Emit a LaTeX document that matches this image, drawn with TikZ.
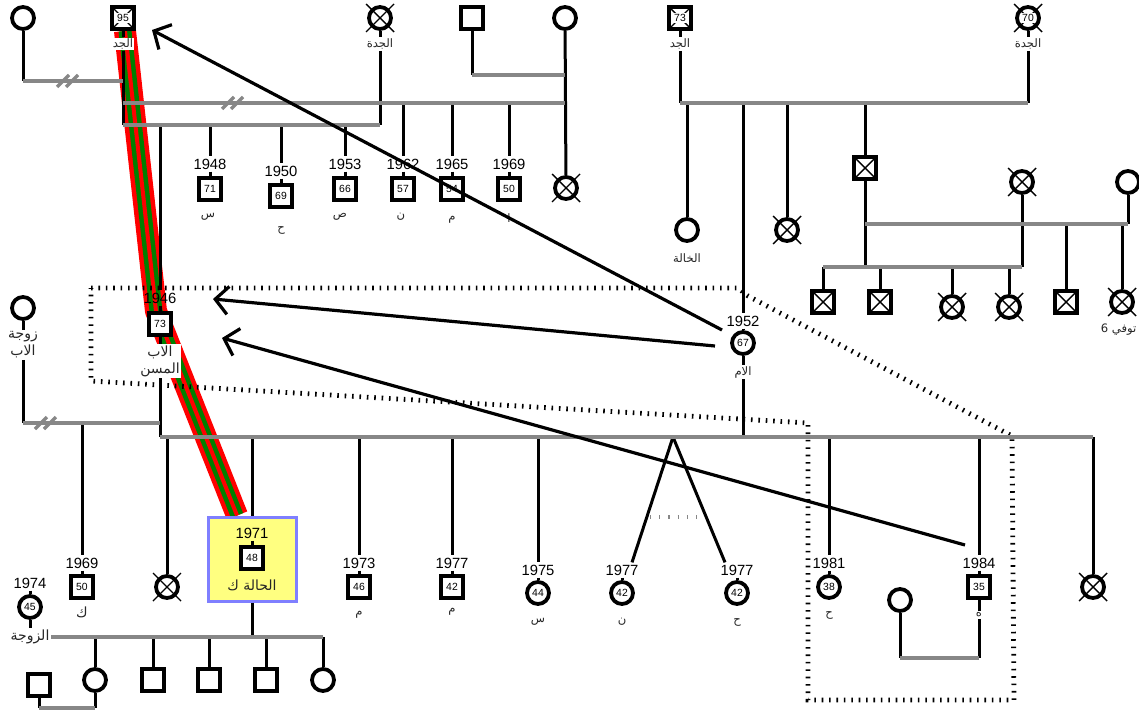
\documentclass[tikz,border=0pt]{standalone}
\usepackage{fontspec}
\setmainfont{Liberation Sans}
\newfontfamily\arabicfont[Script=Arabic]{DejaVu Sans}
\TeXXeTstate=1
\usetikzlibrary{arrows.meta,backgrounds}
\definecolor{linegray}{HTML}{878787}
\definecolor{caseyellow}{HTML}{FFFF80}
\definecolor{caseblue}{HTML}{7F7FFF}
\definecolor{bandgreen}{HTML}{007F00}
\newcommand{\artxt}[1]{{\arabicfont\beginR #1\endR}}
\newcommand{\agefont}{\fontsize{5.2}{6}\selectfont}
\newcommand{\yrfont}{\fontsize{7.4}{8}\selectfont}
\tikzset{
  kin/.style={line width=1.5pt},
  marr/.style={line width=2pt, draw=linegray},
  msym/.style={draw, fill=white, line width=1.9pt, minimum size=11pt, inner sep=0pt, font=\agefont},
  fsym/.style={msym, circle},
  dsq/.style={msym, path picture={\draw[line width=0.7pt] (path picture bounding box.north west) -- (path picture bounding box.south east) (path picture bounding box.north east) -- (path picture bounding box.south west);}},
  agelab/.style={fill=white, inner sep=0.6pt, font=\agefont},
  yr/.style={font=\yrfont, inner sep=1pt},
  arlab/.style={font=\fontsize{5.8}{6.8}\selectfont, fill=white, inner sep=0.6pt, text=black!85},
  arbig/.style={arlab, font=\fontsize{7}{8.5}\selectfont},
  xmark/.style={line width=0.7pt},
  divorce/.style={line width=1.6pt, draw=linegray},
  hhold/.style={line width=2.4pt, dash pattern=on 0.8pt off 2.9pt},
  twinmark/.style={line width=1.6pt, draw=linegray, dash pattern=on 0.6pt off 4pt},
  casebox/.style={draw=caseblue, fill=caseyellow, line width=1.5pt, minimum width=44pt, minimum height=42pt},
  arr/.style={line width=1.6pt, -{Straight Barb[length=6.5pt,width=14pt]}},
}

\begin{document}
\begin{tikzpicture}[x=0.5pt,y=-0.5pt]
\useasboundingbox (0,0) rectangle (1139,711);

% paternal grandparents
\node[fsym] (gw1) at (23,18) {};
\node[dsq, label={[agelab]center:95}] (gf) at (123,18) {};
\node[fsym] (gm) at (380,18) {};
\node[msym] (gmh) at (472,18) {};
\node[fsym] (gw2) at (565,18) {};
\node[fsym] (u0) at (566,188) {};
\node[arlab] (gfl) at (123,44) {\artxt{الجد}};
\node[arlab] (gml) at (380,44) {\artxt{الجدة}};

% maternal grandparents
\node[dsq, label={[agelab]center:73}] (mgf) at (680,18) {};
\node[fsym] (mgm) at (1028,18) {};
\node[arlab] (mgfl) at (680,44) {\artxt{الجد}};
\node[arlab] (mgml) at (1028,44) {\artxt{الجدة}};

% junctions
\coordinate (j1a) at (23,81);   \coordinate (j1b) at (123,81);
\coordinate (j2a) at (123,103); \coordinate (j2b) at (565,103);
\coordinate (j3a) at (123,125); \coordinate (j3b) at (380,125);
\coordinate (j4a) at (472,75);  \coordinate (j4b) at (565,75);
\coordinate (j5a) at (23,423);  \coordinate (j5b) at (160,423);
\coordinate (j6a) at (160,437); \coordinate (j6b) at (1093,437);
\coordinate (j7b) at (323,637);
\coordinate (j8a) at (39,708);  \coordinate (j8b) at (95,708);
\coordinate (j9a) at (900,658); \coordinate (j9b) at (979,658);
\coordinate (k1a) at (680,103); \coordinate (k1b) at (1028,103);
\coordinate (k2a) at (865,224); \coordinate (k2b) at (1128,224);
\coordinate (k3a) at (823,267); \coordinate (k3b) at (1022,267);
\coordinate (twin) at (673,437);
\coordinate (tm1) at (650,517); \coordinate (tm2) at (702,517);

% paternal uncles
\node[yr] (y71) at (210,164) {1948};
\node[msym] (u71) at (210,189) {71};
\node[arlab] (l71) at (208,217) {\artxt{س}};
\node[yr] (y69) at (281,171) {1950};
\node[msym] (u69) at (281,196) {69};
\node[arlab] (l69) at (281,230) {\artxt{ح}};
\node[yr] (y66) at (345,164) {1953};
\node[msym] (u66) at (345,189) {66};
\node[arlab] (l66) at (340,217) {\artxt{ص}};
\node[yr] (y57) at (403,164) {1962};
\node[msym] (u57) at (403,189) {57};
\node[arlab] (l57) at (401,217) {\artxt{ن}};
\node[yr] (y54) at (452,164) {1965};
\node[msym] (u54) at (452,189) {54};
\node[arlab] (l54) at (452,220) {\artxt{م}};
\node[yr] (y50) at (509,164) {1969};
\node[msym] (u50) at (509,189) {50};
\node[arlab] (l50) at (509,218) {\artxt{ا}};

% maternal side
\node[fsym] (au1) at (687,230) {};
\node[arlab] (au1l) at (687,258) {\artxt{الخالة}};
\node[fsym] (au2) at (787,230) {};
\node[dsq] (un) at (865,168) {};
\node[fsym] (uw1) at (1022,182) {};
\node[fsym] (uw2) at (1128,182) {};
\node[dsq] (k1) at (823,302) {};
\node[dsq] (k2) at (880,302) {};
\node[fsym] (k3) at (952,307) {};
\node[fsym] (k4) at (1009,307) {};
\node[dsq] (k5) at (1066,302) {};
\node[fsym] (k6) at (1122,302) {};
\node[arlab, anchor=east] (k6l) at (1138,330) {\artxt{توفي 6}};

% parents
\node[yr] (y46) at (160,298) {1946};
\node[msym] (fa) at (160,324) {73};
\node[arbig, align=center] (fal) at (160,361) {\artxt{الاب}\\\artxt{المسن}};
\node[fsym] (fw) at (23,308) {};
\node[arbig, align=center] (fwl) at (23,345) {\artxt{زوجة}\\\artxt{الاب}};
\node[yr] (y52) at (743,321) {1952};
\node[fsym] (mo) at (743,343) {67};
\node[arlab] (mol) at (743,372) {\artxt{الام}};

% siblings
\node[yr] (yb50) at (82,563) {1969};
\node[msym] (b50) at (82,587) {50};
\node[arbig] (lb50) at (82,612) {\artxt{ك}};
\node[fsym] (d167) at (167,587) {};
\node[casebox] (pc) at (252,559) {};
\node[yr] (y48) at (252,533) {1971};
\node[msym] (p48) at (252,558) {48};
\node[arbig, fill=none] (l48) at (252,585) {\artxt{الحالة ك}};
\node[yr] (yb46) at (359,563) {1973};
\node[msym] (b46) at (359,587) {46};
\node[arlab] (lb46) at (359,615) {\artxt{م}};
\node[yr] (yb42) at (452,563) {1977};
\node[msym] (b42) at (452,587) {42};
\node[arlab] (lb42) at (452,612) {\artxt{م}};
\node[yr] (yz44) at (538,570) {1975};
\node[fsym] (z44) at (538,593) {44};
\node[arlab] (lz44) at (538,622) {\artxt{س}};
\node[yr] (ty1) at (622,570) {1977};
\node[fsym] (t1) at (622,593) {42};
\node[arlab] (lt1) at (622,622) {\artxt{ن}};
\node[yr] (ty2) at (737,570) {1977};
\node[fsym] (t2) at (737,593) {42};
\node[arlab] (lt2) at (737,622) {\artxt{ح}};
\node[yr] (yz38) at (829,563) {1981};
\node[fsym] (z38) at (829,587) {38};
\node[arlab] (lz38) at (829,615) {\artxt{ح}};
\node[yr] (yb35) at (979,563) {1984};
\node[msym] (b35) at (979,587) {35};
\node[arlab] (lb35) at (979,615) {\artxt{ه}};
\node[fsym] (bw) at (900,600) {};
\node[fsym] (d1093) at (1093,587) {};

% case family
\node[yr] (y45) at (30,583) {1974};
\node[fsym] (cw) at (30,607) {45};
\node[arbig] (cwl) at (30,637) {\artxt{الزوجة}};
\node[fsym] (g1) at (95,680) {};
\node[msym] (g2) at (153,680) {};
\node[msym] (g3) at (209,680) {};
\node[msym] (g4) at (266,680) {};
\node[fsym] (g5) at (323,680) {};
\node[msym] (g1h) at (39,685) {};

% deceased crosses
\foreach \n in {gm,u0,d167,d1093,au2,uw1,k3,k4,k6,mgm}
  \draw[xmark] (\n.center) ++(-14,-14) -- ++(28,28) (\n.center) ++(-14,14) -- ++(28,-28);
\node[agelab] (mgmage) at (mgm) {70};

% descent lines
\draw[kin] (gw1) -- (j1a);
\draw[kin] (gf) -- (gfl);
\draw[kin] (gfl) -- (j3a);
\draw[kin] (gm) -- (gml);
\draw[kin] (gml) -- (j3b);
\draw[kin] (gmh) -- (j4a);
\draw[kin] (gw2) -- (u0);
\draw[kin] (u71 |- j3a) -- (y71);  \draw[kin] (y71) -- (u71);
\draw[kin] (u69 |- j3a) -- (y69);  \draw[kin] (y69) -- (u69);
\draw[kin] (u66 |- j3a) -- (y66);  \draw[kin] (y66) -- (u66);
\draw[kin] (u57 |- j2a) -- (y57);  \draw[kin] (y57) -- (u57);
\draw[kin] (u54 |- j2a) -- (y54);  \draw[kin] (y54) -- (u54);
\draw[kin] (u50 |- j2a) -- (y50);  \draw[kin] (y50) -- (u50);
\draw[kin] (fa |- j3a) -- (y46);   \draw[kin] (y46) -- (fa);
\draw[kin] (fa) -- (fal);          \draw[kin] (fal) -- (j6a);
\draw[kin] (fw) -- (fwl);          \draw[kin] (fwl) -- (j5a);

\draw[kin] (mgf) -- (mgfl);  \draw[kin] (mgfl) -- (k1a);
\draw[kin] (mgm) -- (mgml);  \draw[kin] (mgml) -- (k1b);
\draw[kin] (au1 |- k1a) -- (au1);
\draw[kin] (au2 |- k1a) -- (au2);
\draw[kin] (un |- k1a) -- (un);
\draw[kin] (un) -- (un |- k3a);
\draw[kin] (uw1) -- (k3b);
\draw[kin] (uw2) -- (k2b);
\draw[kin] (k1 |- k3a) -- (k1);
\draw[kin] (k2 |- k3a) -- (k2);
\draw[kin] (k3 |- k3a) -- (k3);
\draw[kin] (k4 |- k3a) -- (k4);
\draw[kin] (k5 |- k2a) -- (k5);
\draw[kin] (k6 |- k2a) -- (k6);
\draw[kin] (mo |- k1a) -- (y52);  \draw[kin] (y52) -- (mo);
\draw[kin] (mo) -- (mol);         \draw[kin] (mol) -- (mo |- j6a);

\draw[kin] (b50 |- j5a) -- (yb50);  \draw[kin] (yb50) -- (b50);
\draw[kin] (d167 |- j6a) -- (d167);
\draw[kin] (pc |- j6a) -- (pc);
\draw[kin] (y48) -- (p48);
\draw[kin] (b46 |- j6a) -- (yb46);  \draw[kin] (yb46) -- (b46);
\draw[kin] (b42 |- j6a) -- (yb42);  \draw[kin] (yb42) -- (b42);
\draw[kin] (z44 |- j6a) -- (yz44);  \draw[kin] (yz44) -- (z44);
\draw[kin] (twin) -- ([xshift=5pt]ty1.north);  \draw[kin] (ty1) -- (t1);
\draw[kin] (twin) -- ([xshift=-6pt]ty2.north); \draw[kin] (ty2) -- (t2);
\draw[kin] (z38 |- j6a) -- (yz38);  \draw[kin] (yz38) -- (z38);
\draw[kin] (b35 |- j6a) -- (yb35);  \draw[kin] (yb35) -- (b35);
\draw[kin] (d1093 |- j6a) -- (d1093);
\draw[kin] (b35) -- (lb35);  \draw[kin] (lb35) -- (j9b);
\draw[kin] (bw) -- (j9a);

\draw[kin] (y45) -- (cw);  \draw[kin] (cw) -- (cwl);
\draw[kin] (pc) -- (pc |- j7b);
\draw[kin] (g1 |- j7b) -- (g1);
\draw[kin] (g2 |- j7b) -- (g2);
\draw[kin] (g3 |- j7b) -- (g3);
\draw[kin] (g4 |- j7b) -- (g4);
\draw[kin] (g5 |- j7b) -- (g5);
\draw[kin] (g1h) -- (j8a);
\draw[kin] (g1) -- (j8b);

% couple lines
\draw[marr] (j1a) -- (j1b);
\draw[marr] (j2a) -- (j2b);
\draw[marr] (j3a) -- (j3b);
\draw[marr] (j4a) -- (j4b);
\draw[marr] (j5a) -- (j5b);
\draw[marr] (j6a) -- (j6b);
\draw[marr] (cwl.east) -- (j7b);
\draw[marr] (j8a) -- (j8b);
\draw[marr] (j9a) -- (j9b);
\draw[marr] (k1a) -- (k1b);
\draw[marr] (k2a) -- (k2b);
\draw[marr] (k3a) -- (k3b);
\draw[divorce] (57,87) -- (69,75) (66,87) -- (78,75);
\draw[divorce] (222,109) -- (234,97) (231,109) -- (243,97);
\draw[divorce] (35,429) -- (47,417) (44,429) -- (56,417);
\draw[twinmark] (tm1) -- (tm2);

\begin{scope}[on background layer]
  \draw[red, line width=11pt, line join=round] ([xshift=1pt]gf.south) -- ([xshift=-2pt]fa.north) -- ([xshift=-7.5pt]pc.north);
  \draw[bandgreen, line width=6.5pt, line join=round] ([xshift=1pt]gf.south) -- ([xshift=-2pt]fa.north) -- ([xshift=-7.5pt]pc.north);
  \draw[red, line width=2pt, line join=round] ([xshift=1pt]gf.south) -- ([xshift=-2pt]fa.north) -- ([xshift=-7.5pt]pc.north);
  \draw[hhold] (91,288) -- (738,288) -- (748,296) -- (1012,436) -- (1014,700) -- (808,700) -- (808,423) -- (91,381) -- cycle;
\end{scope}

% arrows
\draw[arr] ([shift={(-21,-13)}]mo.center) -- ([shift={(29,12)}]gf.center);
\draw[arr] ([shift={(-28,3)}]mo.center) -- ([shift={(53,-25)}]fa.center);
\draw[arr] ([shift={(-14,-42)}]b35.center) -- ([shift={(62,14)}]fa.center);
\end{tikzpicture}
\end{document}
